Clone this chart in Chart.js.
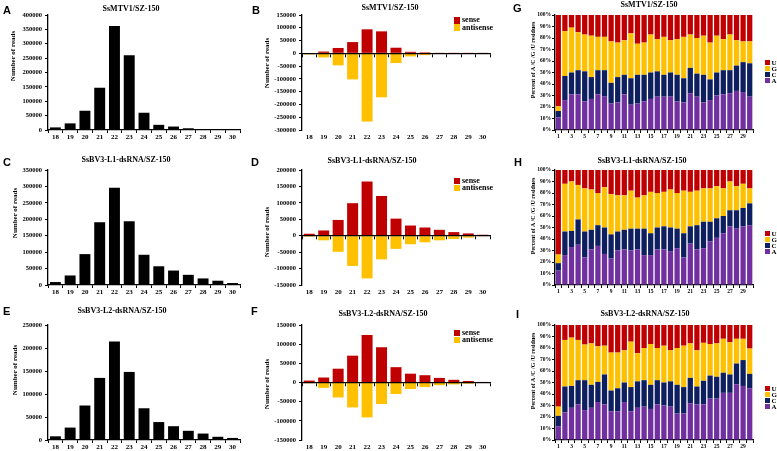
<!DOCTYPE html>
<html>
<head>
<meta charset="utf-8">
<script src="https://cdn.jsdelivr.net/npm/chart.js@4"></script>
<style>
html,body{margin:0;padding:0;background:#fff;}
body{width:777px;height:451px;position:relative;overflow:hidden;}
canvas{position:absolute;z-index:1;}
.t{position:absolute;z-index:2;font-family:"Liberation Serif","Times New Roman",serif;font-weight:bold;color:#000;white-space:nowrap;transform:translate(-50%,-50%);line-height:1;font-size:8px;}
.yt{position:absolute;z-index:2;font-family:"Liberation Serif","Times New Roman",serif;font-weight:bold;color:#000;white-space:nowrap;transform:translate(-50%,-50%) rotate(-90deg);line-height:1;font-size:7px;}
.yt.p{font-size:6px;}
.L{position:absolute;z-index:2;font-family:"Liberation Sans",Arial,sans-serif;font-weight:bold;font-size:11px;line-height:1;color:#000;}
.sw{position:absolute;z-index:2;}
.lt{position:absolute;z-index:2;font-family:"Liberation Serif","Times New Roman",serif;font-weight:bold;color:#000;white-space:nowrap;line-height:1;transform:translateY(-50%);}
</style>
</head>
<body>
<div class="L" style="left:3px;top:5px">A</div>
<div class="L" style="left:252px;top:5px">B</div>
<div class="L" style="left:513px;top:3px">G</div>
<div class="L" style="left:3px;top:157px">C</div>
<div class="L" style="left:251px;top:157px">D</div>
<div class="L" style="left:514px;top:157px">H</div>
<div class="L" style="left:3px;top:306px">E</div>
<div class="L" style="left:251px;top:306px">F</div>
<div class="L" style="left:516px;top:309px">I</div>

<div class="t" style="left:131px;top:9px">SsMTV1/SZ-150</div>
<div class="t" style="left:390px;top:8px">SsMTV1/SZ-150</div>
<div class="t" style="left:649px;top:4.5px">SsMTV1/SZ-150</div>
<div class="t" style="left:126px;top:160px">SsBV3-L1-dsRNA/SZ-150</div>
<div class="t" style="left:372px;top:161px">SsBV3-L1-dsRNA/SZ-150</div>
<div class="t" style="left:642px;top:160.5px">SsBV3-L1-dsRNA/SZ-150</div>
<div class="t" style="left:122px;top:311px">SsBV3-L2-dsRNA/SZ-150</div>
<div class="t" style="left:383px;top:314px">SsBV3-L2-dsRNA/SZ-150</div>
<div class="t" style="left:645px;top:314px">SsBV3-L2-dsRNA/SZ-150</div>

<div class="yt" style="left:13px;top:56px">Number of reads</div>
<div class="yt" style="left:266.7px;top:63px">Number of reads</div>
<div class="yt p" style="left:532.7px;top:60px">Percent of A /C /G /U  residues</div>
<div class="yt" style="left:15px;top:212.5px">Number of reads</div>
<div class="yt" style="left:266.7px;top:231.7px">Number of reads</div>
<div class="yt p" style="left:532.7px;top:216px">Percent of A /C /G /U  residues</div>
<div class="yt" style="left:15px;top:370px">Number of reads</div>
<div class="yt" style="left:266.7px;top:384px">Number of reads</div>
<div class="yt p" style="left:532.7px;top:371px">Percent of A /C /G /U  residues</div>

<script>
// ---------- categories ----------
const lengthLabels = ['18','19','20','21','22','23','24','25','26','27','28','29','30'];
const positionLabels = ['1','2','3','4','5','6','7','8','9','10','11','12','13','14','15','16','17','18','19','20','21','22','23','24','25','26','27','28','29','30'];
const legendStrand = ['sense','antisense'];
const legendBase = ['U','G','C','A'];

// ---------- SsMTV1/SZ-150 ----------
const mtv1Total     = [9000,23000,67000,147000,362000,260000,60000,18000,12000,6000,3000,1500,1000];
const mtv1Sense     = [2000,7000,21000,44000,94000,86000,22000,6000,4000,1000,500,500,500];
const mtv1Antisense = [-4000,-16000,-47000,-102000,-267000,-172000,-38000,-12000,-7000,-2000,-1000,-500,-500];
const mtv1A = [11,26,31,31,25,27,31,29,23,24,31,22,23,25,27,29,29,29,25,24,32,29,24,26,30,31,32,34,33,29];
const mtv1C = [5.5,21,19,21,26,19,21,23,18,22,17,23,25,23,23,22,19,21,23,21,22,20,24,18,20,21,20,22,26,29];
const mtv1G = [4,39,39,33,32,36,29,29,36,30,30,39,27,28,33,28,33,28,31,36,29,31,34,32,32,27,31,22,18,19];
const mtv1U = [79.5,14,11,15,17,18,19,19,23,24,22,16,25,24,17,21,19,22,21,19,17,20,18,24,18,21,17,22,23,23];

// ---------- SsBV3-L1-dsRNA/SZ-150 ----------
const l1Total     = [9000,29000,94000,191000,296000,194000,92000,57000,44000,31000,20000,13000,6000];
const l1Sense     = [6000,16000,48000,99000,165000,121000,52000,31000,25000,18000,11000,7000,3000];
const l1Antisense = [-3000,-14000,-49000,-92000,-130000,-72000,-40000,-26000,-20000,-14000,-10000,-6000,-2000];
const l1A = [12.5,26,33,35,24,31,34,27,23,30,31,30,31,26,26,31,31,29,32,24,36,31,32,38,41,45,51,49,51,52];
const l1C = [6.5,20.5,14,22,22.5,17,18,23,21,16.5,17,19,18,23,19,19,20,21,17,21,15,21,23,17,17,15,14,16,16,19];
const l1G = [7.5,41.5,43,30,37.5,35,28,35,35,31.5,30,33,27,29,36,30,30,33,31,37,30,30,29,29,28,24,25,21,21,13];
const l1U = [73.5,12,10,13,16,17,20,15,21,22,22,18,24,22,19,20,19,17,20,18,19,18,16,16,14,16,10,14,12,16];

// ---------- SsBV3-L2-dsRNA/SZ-150 ----------
const l2Total     = [8000,27000,75000,135000,214000,148000,69000,39000,30000,20000,14000,7000,4500];
const l2Sense     = [5000,13000,36000,70000,124000,92000,40000,23000,19000,12000,7000,4000,1500];
const l2Antisense = [-2000,-14000,-39000,-65000,-91000,-56000,-30000,-17000,-12000,-7000,-5000,-3000,-1000];
const l2A = [12,24,28,31,26,28,33,31,25,25,33,25,28,29,27,31,30,29,23,23,32,31,31,36,36,41,41,48.5,47,45];
const l2C = [9,22.5,19,21,26,20,17.5,26,18,20,17,21,23,23,21,21,20,22,25,23,22,15.5,20.5,20,19,17.5,16,18,22.5,12.5];
const l2G = [8,40.5,42,35,31,36,31,25,33,31,28,39.5,24.5,28,35.5,28,32,27,32,36,30,31.5,33,27.5,29,29.5,28,21.5,18.5,22];
const l2U = [71,13,11,13,17,16,18.5,18,24,24,22,14.5,24.5,20,16.5,20,18,22,20,18,16,22,15.5,16.5,16,12,15,12,12,20.5];

// ---------- styling ----------
const SERIF = '"Liberation Serif","Times New Roman",serif';
const RED = '#C00000', YEL = '#FFC000', NAVY = '#0D1F5E', PURP = '#7030A0';
const baseColors = {U: RED, G: YEL, C: NAVY, A: PURP};

function mkCanvas(b){
  const c = document.createElement('canvas');
  c.width = b.w; c.height = b.h;
  Object.assign(c.style, {left: b.x+'px', top: b.y+'px', width: b.w+'px', height: b.h+'px'});
  document.body.appendChild(c);
  return c;
}
function baseOpts(b, p){
  return {
    responsive: false, animation: false, devicePixelRatio: 1, events: [],
    plugins: {legend: {display: false}, tooltip: {enabled: false}, title: {display: false}},
    layout: {padding: {left: 0, top: p.t - b.y, right: b.x + b.w - p.r, bottom: 0}}
  };
}
function yScale(b, p, min, max, step, size, cb, pad){
  return {
    min, max, stacked: true,
    border: {color: '#000', width: 1.3},
    grid: {drawOnChartArea: false, drawTicks: true, tickLength: 3, color: '#000', lineWidth: 1},
    ticks: {stepSize: step, autoSkip: false, font: {family: SERIF, weight: 'bold', size}, color: '#000', padding: pad, callback: cb || (v => String(v))},
    afterFit(s){ s.width = p.l - b.x; }
  };
}
function xTickFont(size){ return {family: SERIF, weight: 'bold', size}; }

function totalPanel(b, p, values, max){
  const o = baseOpts(b, p);
  o.scales = {
    x: {offset: true, border: {color: '#000', width: 1.3},
        grid: {offset: true, drawOnChartArea: false, tickLength: 3, color: '#000'},
        ticks: {font: xTickFont(7), color: '#000', padding: 0, autoSkip: false, maxRotation: 0},
        afterFit(s){ s.height = b.y + b.h - p.b; }},
    y: yScale(b, p, 0, max, 50000, 6.5, null, 3)
  };
  new Chart(mkCanvas(b), {type: 'bar',
    data: {labels: lengthLabels, datasets: [{data: values, backgroundColor: '#000', barPercentage: 0.74, categoryPercentage: 1}]},
    options: o});
}

function strandPanel(b, p, sense, anti, min, max, legY){
  const o = baseOpts(b, p);
  o.scales = {
    x: {axis: 'x', stacked: true, offset: true, position: {y: 0},
        border: {color: '#000', width: 1.3, z: 1},
        grid: {offset: true, drawOnChartArea: false, tickLength: 3, color: '#000'},
        ticks: {display: false}},
    x2: {axis: 'x', type: 'category', position: 'bottom', offset: true,
         border: {display: false}, grid: {display: false, drawTicks: false, tickLength: 0},
         ticks: {font: xTickFont(7), color: '#000', padding: 2.5, autoSkip: false, maxRotation: 0},
         afterFit(s){ s.height = b.y + b.h - p.b; }},
    y: yScale(b, p, min, max, 50000, 6.5, null, 3)
  };
  new Chart(mkCanvas(b), {type: 'bar',
    data: {labels: lengthLabels, datasets: [
      {label: legendStrand[0], data: sense, backgroundColor: RED, xAxisID: 'x', barPercentage: 0.76, categoryPercentage: 1},
      {label: legendStrand[1], data: anti, backgroundColor: YEL, xAxisID: 'x', barPercentage: 0.76, categoryPercentage: 1}
    ]},
    options: o});
  [RED, YEL].forEach((col, i) => {
    const sw = document.createElement('div');
    sw.className = 'sw';
    Object.assign(sw.style, {left: '454px', top: (legY + i*7.2) + 'px', width: '6px', height: '6.6px', background: col});
    document.body.appendChild(sw);
    const t = document.createElement('div');
    t.className = 'lt'; t.textContent = legendStrand[i];
    Object.assign(t.style, {left: '462px', top: (legY + 3.3 + i*7.2) + 'px', fontSize: '8px'});
    document.body.appendChild(t);
  });
}

function basePanel(b, p, A, C, G, U, legY){
  const o = baseOpts(b, p);
  o.scales = {
    x: {stacked: true, offset: true, border: {color: '#000', width: 1.3},
        grid: {offset: true, drawOnChartArea: false, tickLength: 3, color: '#000'},
        ticks: {font: xTickFont(5.5), color: '#000', padding: 0.5, autoSkip: false, maxRotation: 0,
                callback(v, i){ return i % 2 === 0 ? this.getLabelForValue(v) : ''; }},
        afterFit(s){ s.height = b.y + b.h - p.b; }},
    y: yScale(b, p, 0, 100, 10, 5.5, v => v + '%', 1)
  };
  const ds = (label, data) => ({label, data, backgroundColor: baseColors[label], barPercentage: 0.8, categoryPercentage: 1});
  new Chart(mkCanvas(b), {type: 'bar',
    data: {labels: positionLabels, datasets: [ds('A', A), ds('C', C), ds('G', G), ds('U', U)]},
    options: o});
  legendBase.forEach((k, i) => {
    const sw = document.createElement('div');
    sw.className = 'sw';
    Object.assign(sw.style, {left: '765px', top: (legY + i*6) + 'px', width: '5px', height: '5px', background: baseColors[k]});
    document.body.appendChild(sw);
    const t = document.createElement('div');
    t.className = 'lt'; t.textContent = k;
    Object.assign(t.style, {left: '771.5px', top: (legY + 2.5 + i*6) + 'px', fontSize: '7px'});
    document.body.appendChild(t);
  });
}

// ---------- layout boxes ----------
const colA = {x: 0, w: 252, l: 48, r: 240};
const colB = {x: 252, w: 258, l: 302, r: 490};
const colG = {x: 510, w: 267, l: 555, r: 753};
const rows = [{y: 0, h: 150, t: 15, b: 130}, {y: 150, h: 150, t: 170, b: 285}, {y: 300, h: 151, t: 325, b: 440}];
const box = (c, r) => ({x: c.x, w: c.w, y: r.y, h: r.h});
const plot = (c, r) => ({l: c.l, r: c.r, t: r.t, b: r.b});

totalPanel(box(colA, rows[0]), plot(colA, rows[0]), mtv1Total, 400000);
totalPanel(box(colA, rows[1]), plot(colA, rows[1]), l1Total, 350000);
totalPanel(box(colA, rows[2]), plot(colA, rows[2]), l2Total, 250000);

strandPanel(box(colB, rows[0]), plot(colB, rows[0]), mtv1Sense, mtv1Antisense, -300000, 150000, 17);
strandPanel(box(colB, rows[1]), plot(colB, rows[1]), l1Sense, l1Antisense, -150000, 200000, 177.5);
strandPanel(box(colB, rows[2]), plot(colB, rows[2]), l2Sense, l2Antisense, -150000, 150000, 329.5);

basePanel(box(colG, rows[0]), plot(colG, rows[0]), mtv1A, mtv1C, mtv1G, mtv1U, 60);
basePanel(box(colG, rows[1]), plot(colG, rows[1]), l1A, l1C, l1G, l1U, 231);
basePanel(box(colG, rows[2]), plot(colG, rows[2]), l2A, l2C, l2G, l2U, 386);
</script>
</body>
</html>
